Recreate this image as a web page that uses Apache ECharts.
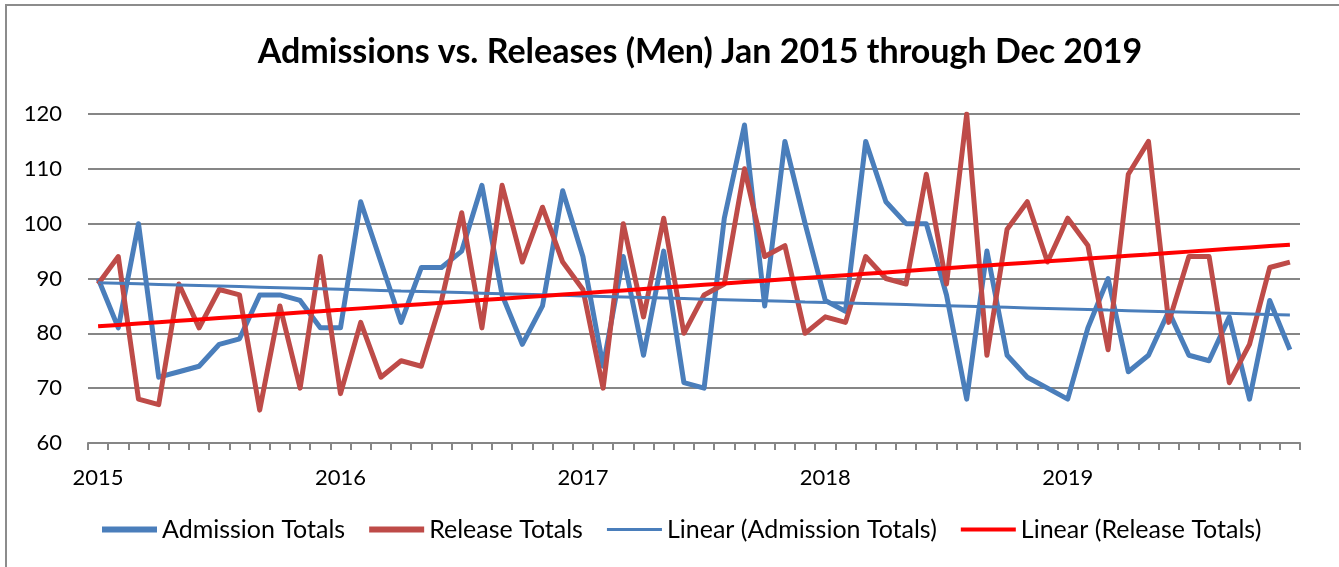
<!DOCTYPE html>
<html>
<head>
<meta charset="utf-8">
<script src="https://cdn.jsdelivr.net/npm/echarts@6/dist/echarts.min.js"></script>
<style>
  html, body { margin: 0; padding: 0; background: #fff; }
  #main { width: 1339px; height: 567px; }
</style>
</head>
<body>
<div id="main"></div>
<script>
// monthly totals, Jan 2015 .. Dec 2019
var years = ['2015', '2016', '2017', '2018', '2019'];
var monthNums = ['01', '02', '03', '04', '05', '06', '07', '08', '09', '10', '11', '12'];

var admissions = [
  90, 81, 100, 72, 73, 74, 78, 79, 87, 87, 86, 81,
  81, 104, 93, 82, 92, 92, 95, 107, 87, 78, 85, 106,
  94, 74, 94, 76, 95, 71, 70, 101, 118, 85, 115, 100,
  86, 84, 115, 104, 100, 100, 87, 68, 95, 76, 72, 70,
  68, 81, 90, 73, 76, 84, 76, 75, 83, 68, 86, 77
];
var releases = [
  89, 94, 68, 67, 89, 81, 88, 87, 66, 85, 70, 94,
  69, 82, 72, 75, 74, 86, 102, 81, 107, 93, 103, 93,
  88, 70, 100, 83, 101, 80, 87, 89, 110, 94, 96, 80,
  83, 82, 94, 90, 89, 109, 89, 120, 76, 99, 104, 93,
  101, 96, 77, 109, 115, 82, 94, 94, 71, 78, 92, 93
];

var months = [];
years.forEach(function (y) {
  monthNums.forEach(function (m) { months.push(y + '-' + m); });
});

// least squares fit, same as the "Linear" trendline
function linearFit(arr) {
  var n = arr.length, sx = 0, sy = 0, sxy = 0, sxx = 0;
  for (var i = 0; i < n; i++) {
    sx += i; sy += arr[i]; sxy += i * arr[i]; sxx += i * i;
  }
  var b = (n * sxy - sx * sy) / (n * sxx - sx * sx);
  var a = (sy - b * sx) / n;
  return arr.map(function (v, i) { return +(a + b * i).toFixed(3); });
}

var chart = echarts.init(document.getElementById('main'));
var font = 'Lato';

var option = {
  animation: false,
  backgroundColor: '#fff',
  graphic: [{
    type: 'rect',
    shape: { x: 6, y: 5, width: 1400, height: 640 },
    style: { fill: 'none', stroke: '#8c8c8c', lineWidth: 2 },
    silent: true
  }],
  title: {
    text: 'Admissions vs. Releases (Men) Jan 2015 through Dec 2019',
    left: 695,
    textAlign: 'center',
    top: 30,
    textStyle: { fontFamily: font, fontWeight: 'bold', fontSize: 34, color: '#000' }
  },
  legend: {
    left: 97,
    top: 512,
    itemWidth: 55,
    itemHeight: 6,
    itemGap: 24,
    textStyle: { fontFamily: font, fontSize: 25, color: '#000' },
    data: [
      { name: 'Admission Totals', icon: 'path://M0,0H55V6H0Z' },
      { name: 'Release Totals', icon: 'path://M0,0H55V6H0Z' },
      { name: 'Linear (Admission Totals)', icon: 'path://M0,0H55V3H0Z' },
      { name: 'Linear (Release Totals)', icon: 'path://M0,0H55V4H0Z' }
    ]
  },
  grid: { left: 88, right: 39, top: 114, bottom: 124 },
  xAxis: {
    type: 'category',
    data: months,
    boundaryGap: true,
    axisLine: { lineStyle: { color: '#868686', width: 2 } },
    axisTick: { show: true, interval: 0, length: 7, lineStyle: { color: '#868686', width: 2 } },
    axisLabel: {
      interval: 11,
      margin: 24,
      fontFamily: font,
      fontSize: 22,
      color: '#000',
      formatter: function (v) { return v.slice(0, 4); }
    }
  },
  yAxis: {
    type: 'value',
    min: 60,
    max: 120,
    interval: 10,
    axisLine: { show: false },
    axisTick: { show: false },
    axisLabel: { margin: 26, fontFamily: font, fontSize: 22, color: '#000' },
    splitLine: { lineStyle: { color: '#868686', width: 2 } }
  },
  series: [
    {
      name: 'Admission Totals',
      type: 'line',
      data: admissions,
      symbol: 'none',
      color: '#4a7ebb',
      lineStyle: { width: 5, color: '#4a7ebb', join: 'round' }
    },
    {
      name: 'Release Totals',
      type: 'line',
      data: releases,
      symbol: 'none',
      color: '#be4b48',
      lineStyle: { width: 5, color: '#be4b48', join: 'round' }
    },
    {
      name: 'Linear (Admission Totals)',
      type: 'line',
      data: linearFit(admissions),
      symbol: 'none',
      color: '#4a7ebb',
      lineStyle: { width: 3, color: '#4a7ebb' }
    },
    {
      name: 'Linear (Release Totals)',
      type: 'line',
      data: linearFit(releases),
      symbol: 'none',
      color: '#ff0000',
      lineStyle: { width: 4, color: '#ff0000' }
    }
  ]
};

chart.setOption(option);
</script>
</body>
</html>
